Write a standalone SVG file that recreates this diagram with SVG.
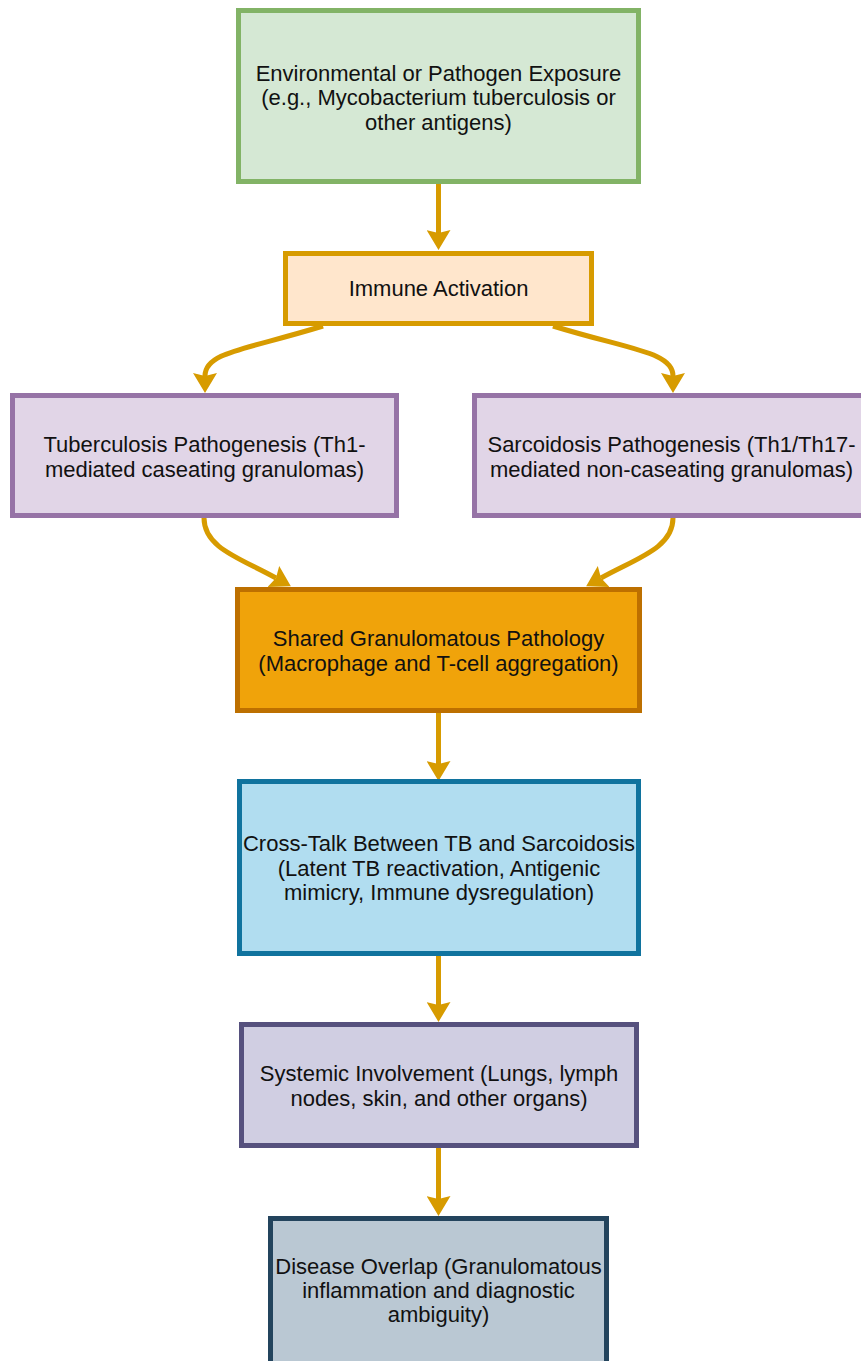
<svg xmlns="http://www.w3.org/2000/svg" width="861" height="1361" viewBox="0 0 861 1361">
<style>
.node rect{stroke-width:5}
.lbl{font-family:"Liberation Sans",Arial,Helvetica,sans-serif;font-size:22px;fill:#111;text-anchor:middle}
.edge{fill:none;stroke:#d79b00;stroke-width:5;marker-end:url(#arr)}
</style>
<defs>
<marker id="arr" markerUnits="userSpaceOnUse" viewBox="0 0 20 24" markerWidth="20" markerHeight="24" refX="3" refY="12" orient="auto">
<path d="M0,0 L20,12 L0,24 L3,12 Z" fill="#d79b00"/>
</marker>
</defs>
<rect width="861" height="1361" fill="#ffffff"/>
<g id="connectors">
<path class="edge" d="M438.5 184 L438.5 233"/>
<path class="edge" d="M323 326 C245 350 205 352 205 376"/>
<path class="edge" d="M553 326 C631 350 673 352 673 376"/>
<path class="edge" d="M204 518 C204 548 240 558 276 578"/>
<path class="edge" d="M673 518 C673 548 637 558 601 578"/>
<path class="edge" d="M438.5 713 L438.5 764"/>
<path class="edge" d="M438.5 956 L438.5 1005"/>
<path class="edge" d="M438.5 1148 L438.5 1199"/>
</g>
<g id="exposure" class="node">
<rect x="238.5" y="10.5" width="400" height="171" fill="#d5e8d4" stroke="#82b366"/>
<text class="lbl" x="438.5" y="80.5">Environmental or Pathogen Exposure</text>
<text class="lbl" x="438.5" y="105">(e.g., Mycobacterium tuberculosis or</text>
<text class="lbl" x="438.5" y="129.5">other antigens)</text>
</g>
<g id="immune" class="node">
<rect x="285.5" y="253.5" width="306" height="70" fill="#ffe6cc" stroke="#d79b00"/>
<text class="lbl" x="438.5" y="296">Immune Activation</text>
</g>
<g id="tb" class="node">
<rect x="12.5" y="395.5" width="384" height="120" fill="#e1d5e7" stroke="#9673a6"/>
<text class="lbl" x="204.5" y="452">Tuberculosis Pathogenesis (Th1-</text>
<text class="lbl" x="204.5" y="477">mediated caseating granulomas)</text>
</g>
<g id="sarcoid" class="node">
<rect x="474.5" y="395.5" width="394" height="120" fill="#e1d5e7" stroke="#9673a6"/>
<text class="lbl" x="671.5" y="452">Sarcoidosis Pathogenesis (Th1/Th17-</text>
<text class="lbl" x="671.5" y="477">mediated non-caseating granulomas)</text>
</g>
<g id="shared" class="node">
<rect x="237.5" y="589.5" width="402" height="121" fill="#f0a30a" stroke="#bd7000"/>
<text class="lbl" x="438.5" y="646">Shared Granulomatous Pathology</text>
<text class="lbl" x="438.5" y="671">(Macrophage and T-cell aggregation)</text>
</g>
<g id="crosstalk" class="node">
<rect x="239.5" y="781.5" width="399" height="172" fill="#b1ddf0" stroke="#10739e"/>
<text class="lbl" x="439" y="851">Cross-Talk Between TB and Sarcoidosis</text>
<text class="lbl" x="439" y="875.5">(Latent TB reactivation, Antigenic</text>
<text class="lbl" x="439" y="900">mimicry, Immune dysregulation)</text>
</g>
<g id="systemic" class="node">
<rect x="241.5" y="1024.5" width="395" height="121" fill="#d0cee2" stroke="#56517e"/>
<text class="lbl" x="439" y="1080.5">Systemic Involvement (Lungs, lymph</text>
<text class="lbl" x="439" y="1106">nodes, skin, and other organs)</text>
</g>
<g id="overlap" class="node">
<rect x="270.5" y="1218.5" width="336" height="200" fill="#bac8d3" stroke="#23445d"/>
<text class="lbl" x="438.5" y="1274">Disease Overlap (Granulomatous</text>
<text class="lbl" x="438.5" y="1298">inflammation and diagnostic</text>
<text class="lbl" x="438.5" y="1322">ambiguity)</text>
</g>
</svg>
